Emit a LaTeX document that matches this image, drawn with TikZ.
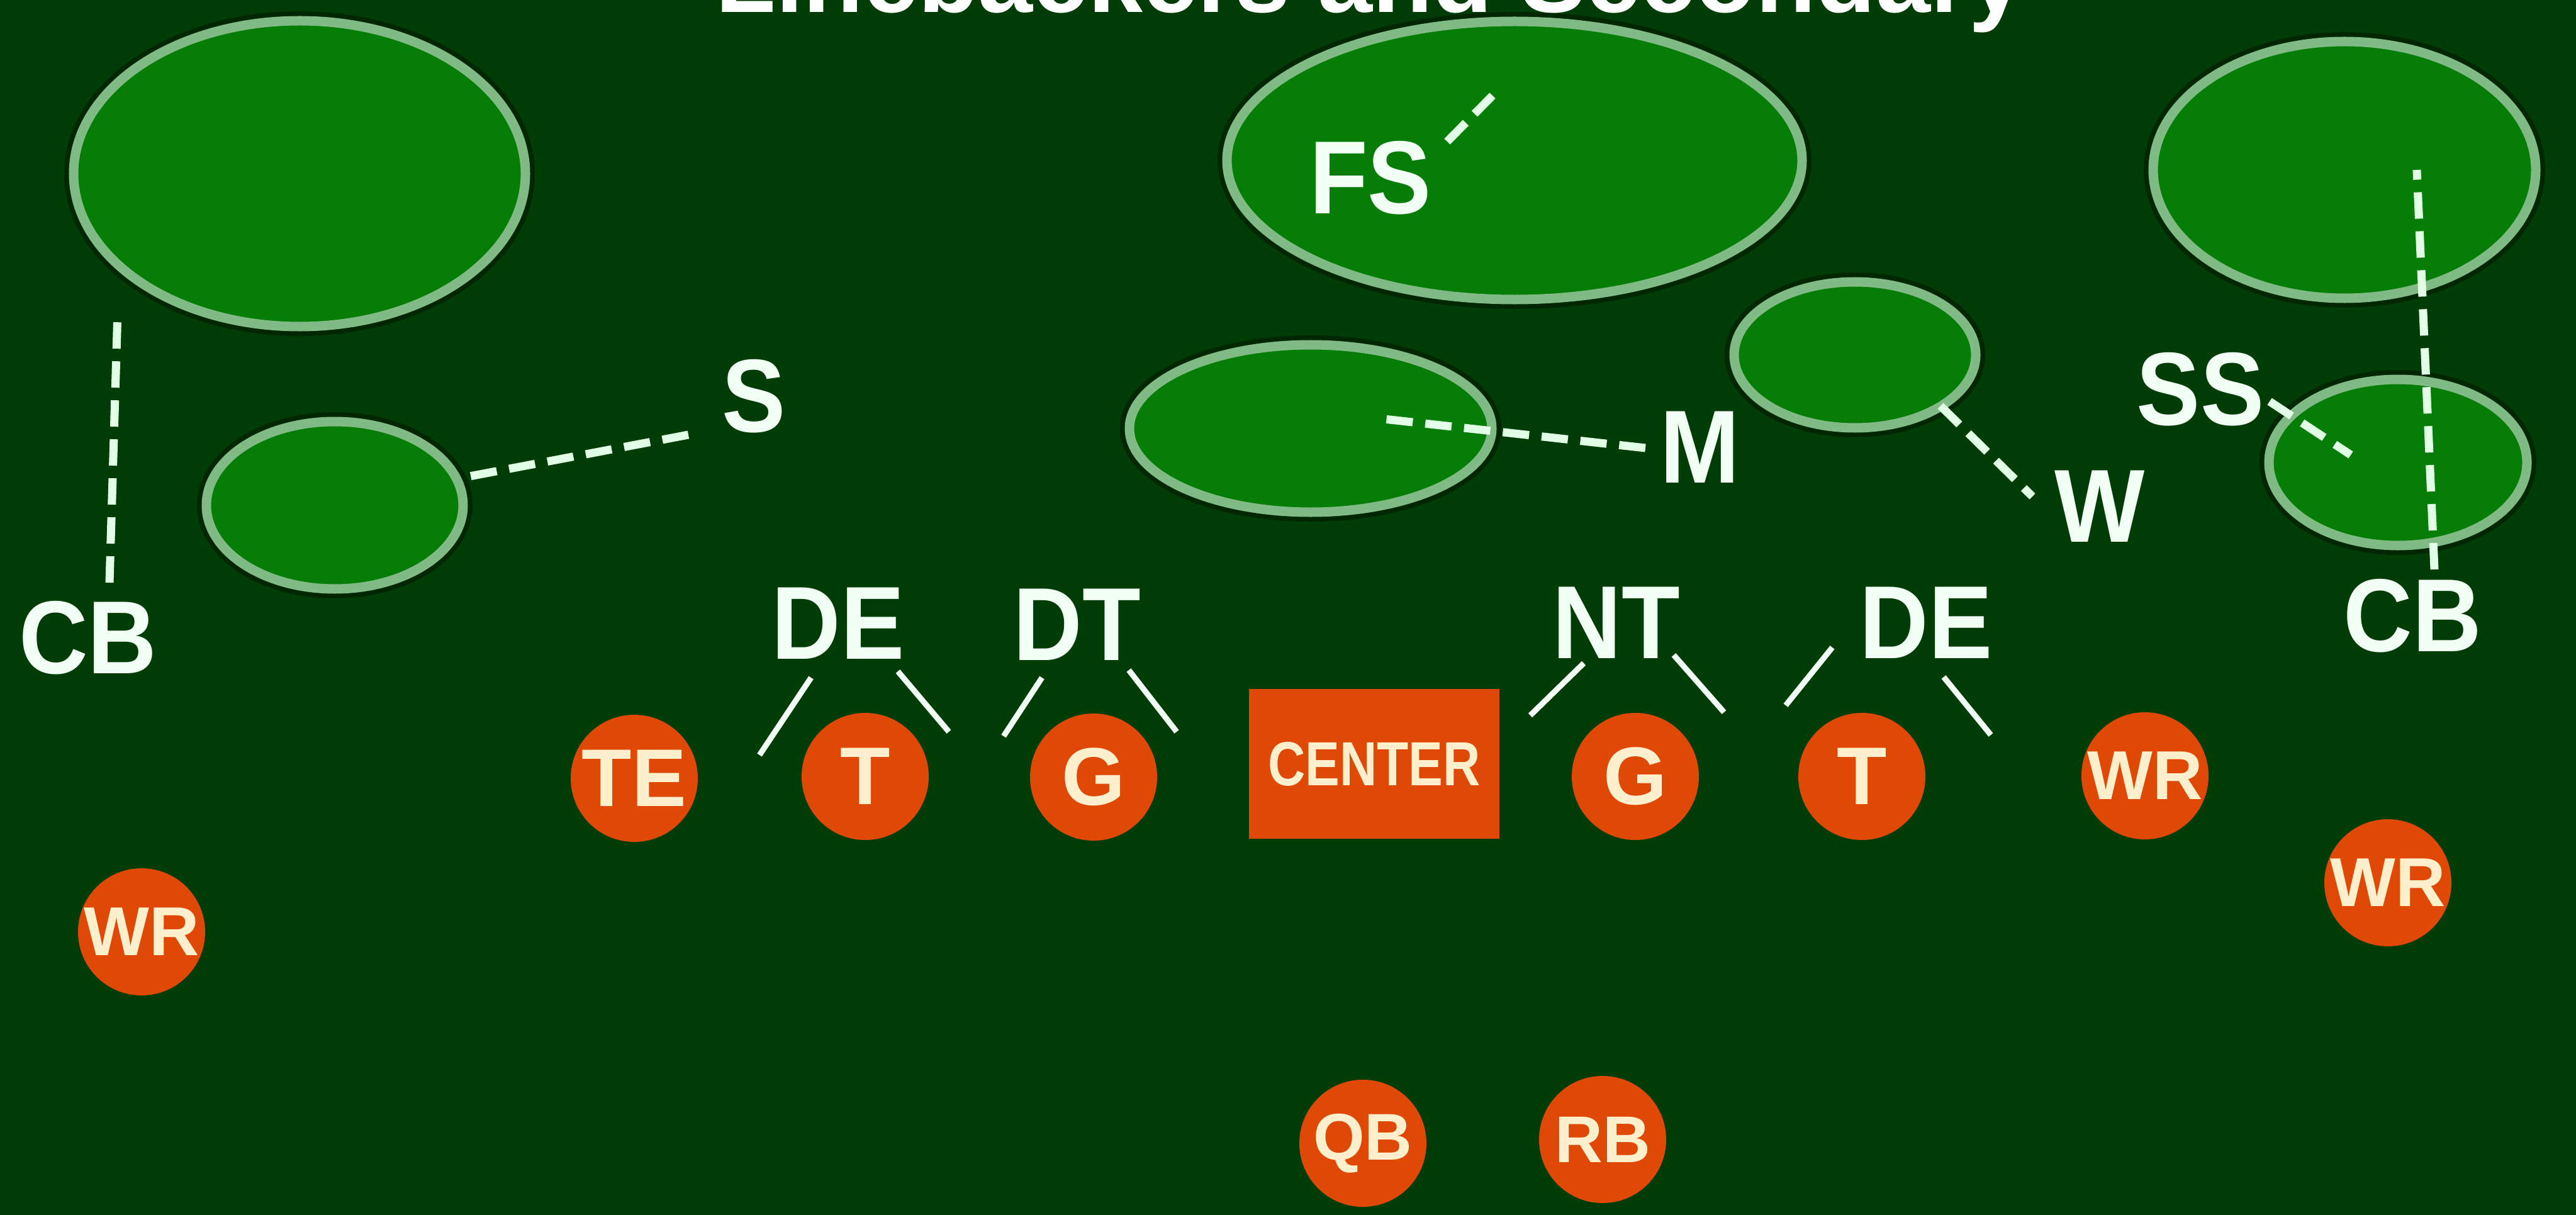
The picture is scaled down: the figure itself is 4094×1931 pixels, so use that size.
\documentclass[tikz,border=0pt]{standalone}
\usepackage{fontspec}
\usetikzlibrary{shapes.geometric}
\setmainfont{Liberation Sans}
\newfontfamily\labfont[FakeStretch=0.92]{Liberation Sans Bold}
\newfontfamily\chipfont{Liberation Sans Bold}
\newfontfamily\narrowfont[FakeStretch=0.83]{Liberation Sans Bold}

\definecolor{field}{RGB}{0,60,5}
\definecolor{zonefill}{RGB}{6,125,6}
\definecolor{zoneedge}{RGB}{128,186,132}
\definecolor{zonehalo}{RGB}{0,38,2}
\definecolor{mint}{RGB}{225,255,228}
\definecolor{labwhite}{RGB}{242,255,244}
\definecolor{chip}{RGB}{224,72,6}
\definecolor{chiptext}{RGB}{255,240,205}

\begin{document}
\begin{tikzpicture}[x=0.2pt,y=-0.2pt,
  zone/.style={ellipse, draw=zoneedge, fill=zonefill, line width=3pt, inner sep=0pt,
    preaction={draw=zonehalo, line width=6pt}},
  lab/.style={font=\labfont\fontsize{33}{33}\selectfont, text=labwhite, inner sep=0pt},
  player/.style={circle, fill=chip, text=chiptext, inner sep=0pt, minimum size=40.4pt,
    font=\chipfont\fontsize{26}{26}\selectfont},
  smallplayer/.style={player, font=\chipfont\fontsize{22}{22}\selectfont},
  assign/.style={draw=mint, line width=2.6pt, dash pattern=on 8.4pt off 4pt},
  gap/.style={draw=labwhite, line width=1.8pt}]

% field and frame
\useasboundingbox (0,0) rectangle (4094,1931);
\clip (0,0) rectangle (4094,1931);
\fill[field] (0,0) rectangle (4094,1931);

% heading
\node[anchor=base, text=white, inner sep=0pt,
  font=\chipfont\fontsize{31.3}{31.3}\selectfont] (title) at (2177,20)
  {Linebackers and Secondary};

% coverage zones
\node[zone, minimum width=143.6pt, minimum height=97.2pt] (deepL)  at (476,276) {};
\node[zone, minimum width=81.6pt,  minimum height=53.2pt] (flatL)  at (532,803) {};
\node[zone, minimum width=182.8pt, minimum height=88.4pt] (deepM)  at (2407,255) {};
\node[zone, minimum width=115.2pt, minimum height=53.2pt] (hookM)  at (2083,681) {};
\node[zone, minimum width=76.8pt,  minimum height=46.4pt] (hookW)  at (2948,564) {};
\node[zone, minimum width=121.6pt, minimum height=81.6pt] (deepR)  at (3726,270) {};
\node[zone, minimum width=82pt,    minimum height=52.8pt] (flatR)  at (3811,735) {};

% defenders
\node[lab] (cbL) at (140,1014) {CB};
\node[lab] (s)   at (1198,630) {S};
\node[lab] (fs)  at (2178,283) {FS};
\node[lab] (m)   at (2702,711) {M};
\node[lab] (w)   at (3337,805) {W};
\node[lab] (ss)  at (3497,619) {SS};
\node[lab] (cbR) at (3834,979) {CB};
\node[lab] (deL) at (1332,991) {DE};
\node[lab] (dt)  at (1712,993) {DT};
\node[lab] (nt)  at (2569,990) {NT};
\node[lab] (deR) at (3061,990) {DE};

% ends of the assignment lines
\coordinate (cbLa) at (187,495);  \coordinate (cbLb) at (174,926);
\coordinate (sa)   at (741,758);  \coordinate (sb)   at (1094,691);
\coordinate (fsa)  at (2300,225); \coordinate (fsb)  at (2372,152);
\coordinate (ma)   at (2200,666); \coordinate (mb)   at (2615,712);
\coordinate (wa)   at (3084,645); \coordinate (wb)   at (3230,789);
\coordinate (ssa)  at (3607,638); \coordinate (ssb)  at (3736,723);
\coordinate (cbRa) at (3841,270); \coordinate (cbRb) at (3869,905);

\draw[assign] (cbLb) -- (cbLa);
\draw[assign] (sb) -- (sa);
\draw[assign] (fsa) -- (fsb);
\draw[assign] (mb) -- (ma);
\draw[assign] (wa) -- (wb);
\draw[assign] (ssa) -- (ssb);
\draw[assign] (cbRb) -- (cbRa);

% gap assignments of the front four
\coordinate (g1a) at (1289,1077); \coordinate (g1b) at (1207,1200);
\coordinate (g2a) at (1427,1067); \coordinate (g2b) at (1508,1163);
\coordinate (g3a) at (1656,1077); \coordinate (g3b) at (1595,1170);
\coordinate (g4a) at (1794,1065); \coordinate (g4b) at (1870,1163);
\coordinate (g5a) at (2517,1054); \coordinate (g5b) at (2432,1137);
\coordinate (g6a) at (2660,1041); \coordinate (g6b) at (2740,1132);
\coordinate (g7a) at (2912,1029); \coordinate (g7b) at (2838,1121);
\coordinate (g8a) at (3089,1076); \coordinate (g8b) at (3164,1168);
\foreach \k in {1,...,8} \draw[gap] (g\k a) -- (g\k b);

% offense
\node[player] (te) at (1008,1237) {TE};
\node[player] (tL) at (1375,1234) {T};
\node[player] (gL) at (1738,1235) {G};
\node[rectangle, fill=chip, text=chiptext, inner sep=0pt,
  minimum width=79.6pt, minimum height=47.6pt,
  font=\narrowfont\fontsize{19.8}{19.8}\selectfont] (ctr) at (2184,1214) {CENTER};
\node[player] (gR) at (2599,1234) {G};
\node[player] (tR) at (2959,1234) {T};
\node[smallplayer] (wr1) at (3409,1233) {WR};
\node[smallplayer] (wr2) at (3795,1403) {WR};
\node[smallplayer] (wr3) at (225,1481) {WR};
\node[player, font=\chipfont\fontsize{21}{21}\selectfont] (qb) at (2166,1817) {QB};
\node[player, font=\chipfont\fontsize{21}{21}\selectfont] (rb) at (2547,1811) {RB};
\end{tikzpicture}
\end{document}
